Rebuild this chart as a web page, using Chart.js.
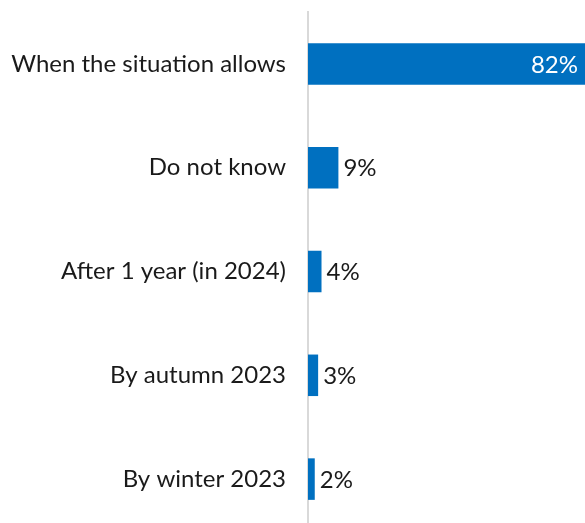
<!DOCTYPE html>
<html>
<head>
<meta charset="utf-8">
<script src="https://cdn.jsdelivr.net/npm/chart.js@4"></script>
<style>
  html, body { margin: 0; padding: 0; background: #fff; overflow: hidden; }
  canvas { display: block; }
</style>
</head>
<body>
<canvas id="chart" width="585" height="531"></canvas>
<script>
const categories = ["When the situation allows", "Do not know", "After 1 year (in 2024)", "By autumn 2023", "By winter 2023"];
const values = [82, 9, 4, 3, 2];

// percentages next to / inside the bars
const barLabels = {
    id: 'barLabels',
    afterDatasetsDraw(chart) {
        const ctx = chart.ctx;
        const meta = chart.getDatasetMeta(0);
        ctx.save();
        ctx.font = '24px Lato';
        ctx.textBaseline = 'middle';
        meta.data.forEach((bar, i) => {
            const txt = values[i] + '%';
            if (values[i] > 50) {
                ctx.fillStyle = '#ffffff';
                ctx.textAlign = 'right';
                ctx.fillText(txt, bar.x - 7, bar.y + 1);
            } else {
                ctx.fillStyle = '#1a1a1a';
                ctx.textAlign = 'left';
                ctx.fillText(txt, bar.x + 5, bar.y + 1);
            }
        });
        ctx.restore();
    }
};

const chart = new Chart(document.getElementById('chart'), {
    type: 'bar',
    data: {
        labels: categories,
        datasets: [{
            data: values,
            backgroundColor: '#0070c0',
            barPercentage: 0.4,
            categoryPercentage: 1
        }]
    },
    options: {
        indexAxis: 'y',
        responsive: false,
        animation: false,
        layout: { padding: { top: 12, right: 0, left: 0, bottom: 0 } },
        plugins: { legend: { display: false }, tooltip: { enabled: false } },
        scales: {
            x: { display: false, min: 0, max: 82 },
            y: {
                grid: { display: false, drawTicks: false },
                border: { display: true, color: '#d9d9d9', width: 2 },
                ticks: { color: '#1a1a1a', padding: 22, font: { family: 'Lato', size: 24 } },
                afterFit(scale) { scale.width = 308; scale.paddingTop = 0; scale.paddingBottom = 0; }
            }
        }
    },
    plugins: [barLabels]
});
</script>
</body>
</html>
